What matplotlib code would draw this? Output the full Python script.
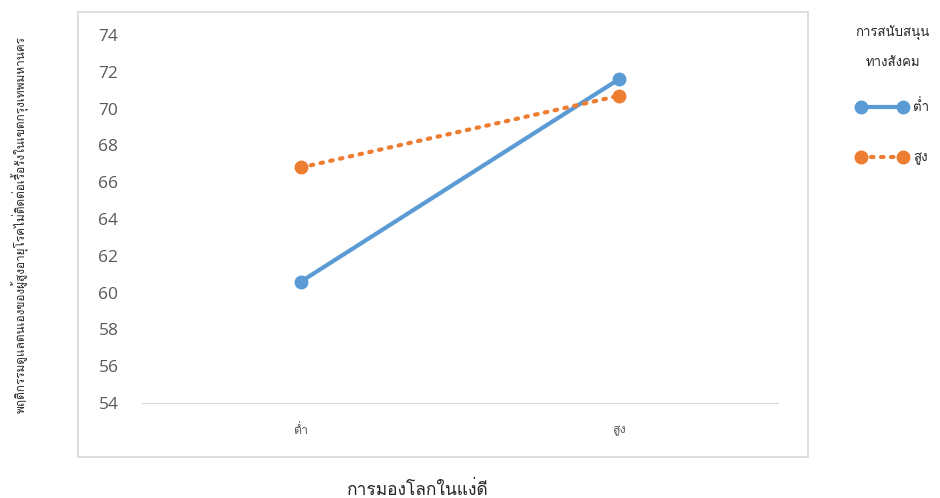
import matplotlib
matplotlib.use("Agg")
import matplotlib.pyplot as plt
from matplotlib import font_manager
from matplotlib.patches import Rectangle
from fontTools.ttLib import TTFont

# Pick an installed font that covers the Thai block
def find_thai_font():
    for f in font_manager.fontManager.ttflist:
        try:
            tt = TTFont(f.fname, fontNumber=0, lazy=True)
            cmap = tt.getBestCmap()
            if cmap and 0x0E01 in cmap and 0x0E33 in cmap:
                return f.name
        except Exception:
            continue
    return None

thai = find_thai_font()
families = ([thai] if thai else []) + ["DejaVu Sans"]
plt.rcParams["font.family"] = families

categories = ["ต่ำ", "สูง"]
series_names = ["ต่ำ", "สูง"]
low_support = [60.6, 71.6]
high_support = [66.8, 70.7]
yticks = [54, 56, 58, 60, 62, 64, 66, 68, 70, 72, 74]

W, H = 940, 498
fig = plt.figure(figsize=(W / 100, H / 100), dpi=100)

# chart border
fig.patches.append(Rectangle((78 / W, 1 - 457 / H), (808 - 78) / W, (457 - 12) / H,
                             transform=fig.transFigure, fill=False,
                             edgecolor="#d9d9d9", linewidth=1.2))

ax = fig.add_axes([142 / W, 1 - 403 / H, (778 - 142) / W, (403 - 35) / H])
x = [0.5, 1.5]
ax.plot(x, low_support, color="#5b9bd5", linewidth=3, marker="o", markersize=9,
        label=series_names[0], solid_capstyle="round")
ax.plot(x, high_support, color="#ed7d31", linewidth=3, marker="o", markersize=9,
        linestyle=(0, (0.6, 1.8)), dash_capstyle="round", label=series_names[1])

ax.set_xlim(0, 2)
ax.set_ylim(54, 74)
ax.set_yticks(yticks)
ax.set_xticks(x)
ax.set_xticklabels(categories, fontsize=9, color="#595959")
ax.tick_params(axis="y", length=0, pad=17, labelsize=12.5, labelcolor="#595959")
for lbl in ax.get_yticklabels():
    lbl.set_fontfamily(["Open Sans", "DejaVu Sans"])
ax.tick_params(axis="x", length=0, pad=15)
for s in ["top", "right", "left"]:
    ax.spines[s].set_visible(False)
ax.spines["bottom"].set_color("#d9d9d9")

fig.text(418 / W, 1 - 490 / H, "การมองโลกในแง่ดี", ha="center", va="center",
         fontsize=12.5, color="#262626")
fig.text(20 / W, 1 - 225 / H,
         "พฤติกรรมดูแลตนเองของผู้สูงอายุโรคไม่ติดต่อเรื้อรังในเขตกรุงเทพมหานคร",
         rotation=90, ha="center", va="center", fontsize=8.5, color="#262626")

leg = fig.legend(loc="upper left", bbox_to_anchor=(849 / W, 1 - 19 / H),
                 title="การสนับสนุน\nทางสังคม", frameon=False, numpoints=2,
                 handlelength=3.8, labelspacing=2.85, fontsize=9.5,
                 title_fontsize=9.5, handletextpad=0.45, borderpad=0)
leg.get_title().set_multialignment("center")
leg.get_title().set_linespacing(2.8)
leg.get_title().set_color("#262626")
leg._legend_box.sep = 22
for t in leg.get_texts():
    t.set_color("#262626")

fig.savefig("out.png", dpi=100)
